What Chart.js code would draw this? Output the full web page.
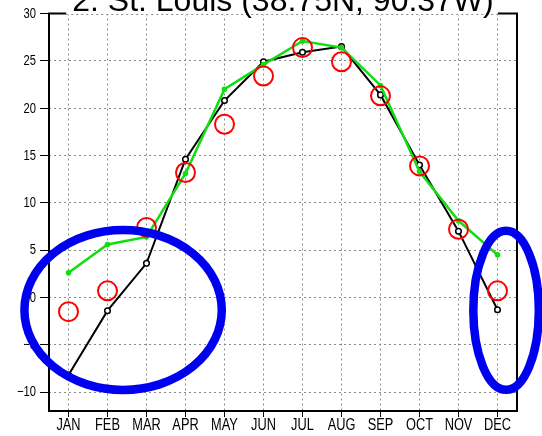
<!DOCTYPE html>
<html>
<head>
<meta charset="utf-8">
<script src="https://cdn.jsdelivr.net/npm/chart.js@4/dist/chart.umd.min.js"></script>
<style>
  html, body { margin: 0; padding: 0; background: #fff; }
  #wrap { width: 542px; height: 436px; }
</style>
</head>
<body>
<div id="wrap"><canvas id="c" width="542" height="436"></canvas></div>
<script>
// Monthly mean 2 m temperature (°C), St. Louis
const chartTitle = '2. St. Louis (38.75N, 90.37W)';
const months = ['JAN', 'FEB', 'MAR', 'APR', 'MAY', 'JUN', 'JUL', 'AUG', 'SEP', 'OCT', 'NOV', 'DEC'];
const yTickValues = [-10, -5, 0, 5, 10, 15, 20, 25, 30];
const yTickLabels = ['\u221210', '\u22125', '0', '5', '10', '15', '20', '25', '30'];

const modelBlack = [-8.2, -1.4, 3.6, 14.6, 20.8, 24.9, 25.9, 26.5, 21.4, 14.0, 7.0, -1.3];
const modelGreen = [2.6, 5.6, 6.4, 13.1, 22.0, 24.6, 27.1, 26.4, 22.4, 13.3, 8.1, 4.5];
const observed   = [-1.5, 0.7, 7.4, 13.2, 18.3, 23.4, 26.4, 24.9, 21.3, 13.9, 7.2, 0.7];

// Highlighted winter regions: centre (month index, °C) and half-extents
const highlightMonth      = [1.40, 11.22];
const highlightTemp       = [-1.33, -1.36];
const highlightHalfMonths = [2.53, 0.84];
const highlightHalfTemp   = [8.45, 8.40];

const gridColor = '#8a8a8a';
const baseFont = '"Liberation Sans", Arial, Helvetica, sans-serif';
const condense = 0.8;   // horizontal squeeze for axis labels

// draws text squeezed horizontally around its anchor point
function condensedText(ctx, text, x, y, align) {
  ctx.save();
  ctx.translate(x, y);
  ctx.scale(condense, 1);
  ctx.textAlign = align;
  ctx.fillText(text, 0, 0);
  ctx.restore();
}

const decorations = {
  id: 'decorations',
  beforeDatasetsDraw(chart) {
    const { ctx, chartArea: a } = chart;
    ctx.save();
    ctx.strokeStyle = '#000';
    ctx.lineWidth = 2;
    ctx.strokeRect(a.left, a.top, a.right - a.left, a.bottom - a.top);
    ctx.restore();
  },
  afterDraw(chart) {
    const { ctx, chartArea: a, scales: { x, y } } = chart;
    ctx.save();

    // axis labels
    ctx.fillStyle = '#000';
    ctx.textBaseline = 'middle';
    ctx.font = '16px ' + baseFont;
    months.forEach((m, i) => {
      condensedText(ctx, m, x.getPixelForTick(i), a.bottom + 14.5, 'center');
    });
    ctx.font = '14px ' + baseFont;
    yTickValues.forEach((v, i) => {
      condensedText(ctx, yTickLabels[i], a.left - 13, y.getPixelForValue(v) + 0.5, 'right');
    });

    // title on a white backing that sits over the top frame edge
    ctx.font = '32px ' + baseFont;
    const cx = (a.left + a.right) / 2;
    const w = ctx.measureText(chartTitle).width;
    const x0 = cx - w / 2 - 6, x1 = cx + w / 2 + 4;
    ctx.fillStyle = '#fff';
    ctx.fillRect(x0, 0, x1 - x0, a.top + 1.5);
    const yTop = Math.round(y.getPixelForValue(yTickValues[yTickValues.length - 1])) + 0.5;
    ctx.strokeStyle = gridColor;
    ctx.lineWidth = 1;
    ctx.setLineDash([2, 3]);
    ctx.beginPath();
    ctx.moveTo(x0, yTop);
    ctx.lineTo(x1, yTop);
    ctx.stroke();
    ctx.setLineDash([]);
    ctx.fillStyle = '#000';
    ctx.textAlign = 'center';
    ctx.textBaseline = 'alphabetic';
    ctx.fillText(chartTitle, cx, a.top - 3);

    // blue ellipses around the winter months
    ctx.strokeStyle = '#0000f0';
    ctx.lineWidth = 8.5;
    for (let i = 0; i < highlightMonth.length; i++) {
      const px = x.getPixelForValue(highlightMonth[i]);
      const py = y.getPixelForValue(highlightTemp[i]);
      const rx = Math.abs(x.getPixelForValue(highlightMonth[i] + highlightHalfMonths[i]) - px);
      const ry = Math.abs(y.getPixelForValue(highlightTemp[i] + highlightHalfTemp[i]) - py);
      ctx.beginPath();
      ctx.ellipse(px, py, rx, ry, 0, 0, Math.PI * 2);
      ctx.stroke();
    }
    ctx.restore();
  }
};

new Chart(document.getElementById('c'), {
  type: 'line',
  data: {
    labels: months,
    datasets: [
      {
        label: 'Observed',
        data: observed,
        showLine: false,
        borderColor: '#ff0000',
        pointBorderColor: '#ff0000',
        pointBackgroundColor: 'rgba(0,0,0,0)',
        pointRadius: 9.5,
        pointHoverRadius: 9.5,
        pointBorderWidth: 2,
        order: 0
      },
      {
        label: 'Model B',
        data: modelGreen,
        borderColor: '#11dd11',
        borderWidth: 2.5,
        pointBackgroundColor: '#11dd11',
        pointBorderColor: '#11dd11',
        pointRadius: 2.8,
        pointBorderWidth: 0,
        tension: 0,
        order: 1
      },
      {
        label: 'Model A',
        data: modelBlack,
        borderColor: '#000',
        borderWidth: 2,
        pointBackgroundColor: '#fff',
        pointBorderColor: '#000',
        pointRadius: 2.8,
        pointBorderWidth: 1.5,
        tension: 0,
        order: 2
      }
    ]
  },
  options: {
    responsive: false,
    animation: false,
    events: [],
    layout: { padding: { top: 13.5, right: 25, left: 0, bottom: 0 } },
    plugins: {
      legend: { display: false },
      tooltip: { enabled: false },
      title: { display: false }
    },
    scales: {
      x: {
        type: 'category',
        offset: true,
        grid: {
          color: gridColor,
          lineWidth: 1,
          tickColor: '#000',
          tickLength: 6,
          tickWidth: 1
        },
        border: { display: false, dash: [2, 3] },
        ticks: { display: false, autoSkip: false, maxRotation: 0 },
        afterFit(scale) { scale.height = 25; }
      },
      y: {
        type: 'linear',
        min: -12,
        max: 30,
        grid: {
          color: gridColor,
          lineWidth: 1,
          tickColor: '#000',
          tickLength: 9,
          tickWidth: 1
        },
        border: { display: false, dash: [2, 3] },
        ticks: { display: false },
        afterBuildTicks(scale) {
          scale.ticks = yTickValues.map(v => ({ value: v }));
        },
        afterFit(scale) { scale.width = 49; }
      }
    }
  },
  plugins: [decorations]
});
</script>
</body>
</html>
